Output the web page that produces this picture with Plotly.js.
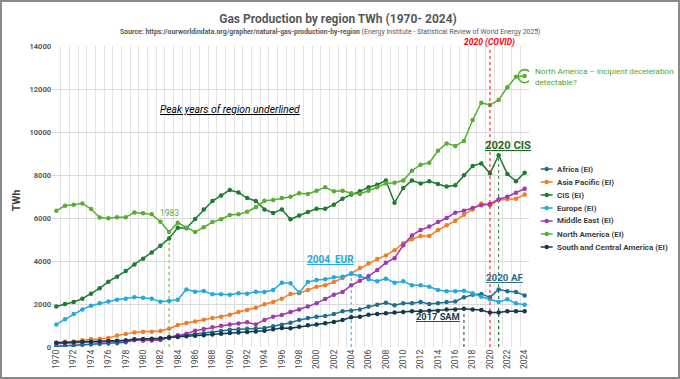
<!DOCTYPE html>
<html><head><meta charset="utf-8">
<script src="https://cdn.plot.ly/plotly-3.0.1.min.js"></script>
<style>
html,body{margin:0;padding:0;background:#fff}
#chart{width:680px;height:379px}
#frame{position:absolute;left:0;top:0;width:680px;height:379px;box-sizing:border-box;border:2px solid #8a8a8a;pointer-events:none}
</style>
</head><body><div id="chart"></div><div id="frame"></div>
<script>
const years = [1970,1971,1972,1973,1974,1975,1976,1977,1978,1979,1980,1981,1982,1983,1984,1985,1986,1987,1988,1989,1990,1991,1992,1993,1994,1995,1996,1997,1998,1999,2000,2001,2002,2003,2004,2005,2006,2007,2008,2009,2010,2011,2012,2013,2014,2015,2016,2017,2018,2019,2020,2021,2022,2023,2024];

const africa = [30,50,70,100,120,140,160,180,220,320,310,320,350,430,520,560,600,640,680,740,800,830,850,860,880,960,1040,1130,1260,1350,1410,1440,1530,1660,1690,1750,1870,1970,2060,1940,2030,2030,2090,2000,2030,2090,2120,2310,2430,2470,2310,2680,2590,2560,2400];
const asiaPacific = [200,250,260,310,360,370,420,530,600,680,710,710,740,850,1020,1120,1190,1270,1350,1410,1500,1630,1720,1830,1990,2090,2250,2470,2500,2650,2800,2870,3020,3210,3430,3670,3890,4090,4260,4500,4820,5010,5160,5160,5440,5660,5870,6150,6400,6680,6590,6840,6870,6900,7090];
const cis = [1880,2000,2090,2250,2480,2730,3040,3270,3530,3840,4110,4400,4710,5050,5550,5520,5950,6390,6790,7050,7300,7190,6930,6790,6400,6230,6400,5940,6120,6280,6430,6430,6620,6900,7090,7240,7430,7550,7740,6710,7400,7740,7610,7710,7580,7460,7520,7990,8420,8540,8080,8920,8050,7710,8110];
const europe = [1050,1290,1530,1750,1920,2030,2120,2200,2250,2310,2290,2250,2110,2140,2200,2680,2570,2600,2450,2450,2430,2500,2480,2570,2560,2650,2990,2960,2530,3020,3120,3150,3240,3270,3400,3300,3150,3060,3180,2990,3060,2870,2870,2800,2650,2590,2590,2620,2500,2340,2220,2090,2220,2030,1970];
const middleEast = [150,170,200,230,240,230,260,270,280,330,300,300,330,450,550,620,760,840,920,990,1050,1090,1150,1050,1260,1410,1490,1630,1750,1880,2040,2230,2430,2560,2870,3080,3300,3580,3920,4130,4730,5190,5440,5600,5810,6000,6250,6340,6470,6590,6650,6870,6990,7180,7360];
const northAmerica = [6340,6570,6620,6680,6420,6020,5990,6030,6030,6260,6220,6170,5830,5350,5780,5550,5350,5570,5810,5940,6140,6170,6290,6500,6800,6840,6930,6990,7150,7120,7270,7430,7240,7270,7150,7120,7270,7430,7610,7640,7740,8200,8480,8570,9130,9470,9350,9580,10560,11360,11260,11490,12080,12570,12600];
const southCentralAmerica = [200,210,220,240,250,260,280,290,310,360,370,380,410,440,470,500,520,550,580,620,650,680,700,720,760,820,880,870,940,1010,1050,1100,1160,1260,1380,1410,1500,1530,1570,1600,1630,1660,1660,1690,1690,1750,1750,1780,1750,1720,1600,1600,1660,1660,1660];

const seriesNames = ['Africa (EI)','Asia Pacific (EI)','CIS (EI)','Europe (EI)','Middle East (EI)','North America (EI)','South and Central America (EI)'];
const seriesData = [africa, asiaPacific, cis, europe, middleEast, northAmerica, southCentralAmerica];
const seriesColors = ['#1f6f8f','#f07e26','#1f7a34','#24a8e0','#a03aae','#58ae32','#16394f'];
const xTickLabels = ['1970','1972','1974','1976','1978','1980','1982','1984','1986','1988','1990','1992','1994','1996','1998','2000','2002','2004','2006','2008','2010','2012','2014','2016','2018','2020','2022','2024'];

const FONT = 'Roboto, Liberation Sans, sans-serif';
const L=51.7, R=529.3, T=46, B=347;
const px = x => (x-L)/(R-L);
const py = y => (B-y)/(B-T);
const idx = y => years.indexOf(y);

const traces = seriesData.map((d,i)=>({
  x: years, y: d, type:'scatter', mode:'lines+markers', name: seriesNames[i],
  line:{color:seriesColors[i], width:1.5}, marker:{color:seriesColors[i], size:4.5},
  showlegend:false, hoverinfo:'skip'
}));
const last = years.length-1;
traces.push({x:[years[last]], y:[northAmerica[last]], type:'scatter', mode:'markers',
  marker:{symbol:'circle-open', size:13, color:'#58ae32', line:{width:1.6, color:'#58ae32'}}, showlegend:false, hoverinfo:'skip'});

const shapes = [];
const annotations = [];
function vline(yr, top, color){
  shapes.push({type:'line', xref:'x', yref:'y', x0:yr, x1:yr, y0:0, y1:top, line:{color:color, width:1, dash:'dot'}, layer:'below'});
}
shapes.push({type:'line', xref:'x', yref:'paper', x0:2020, x1:2020, y0:0, y1:0.99, line:{color:'#ff0000', width:1, dash:'dot'}});
vline(1983, northAmerica[idx(1983)], '#58ae32');
vline(2004, europe[idx(2004)], '#24a8e0');
vline(2017, southCentralAmerica[idx(2017)], '#16394f');
vline(2021, africa[idx(2021)], '#1f6f8f');
vline(2021, cis[idx(2021)], '#1f7a34');

// legend (manual, compact)
seriesNames.forEach((n,i)=>{
  const yy = 169 + 13*i;
  shapes.push({type:'line', xref:'paper', yref:'paper', x0:px(541), x1:px(553), y0:py(yy), y1:py(yy), line:{color:seriesColors[i], width:1.5}});
  shapes.push({type:'circle', xref:'paper', yref:'paper', x0:px(544.8), x1:px(549.2), y0:py(yy+2.2), y1:py(yy-2.2), fillcolor:seriesColors[i], line:{width:0}});
  annotations.push({xref:'paper', yref:'paper', x:px(555.5), y:py(yy), xanchor:'left', yanchor:'middle', showarrow:false,
    text:'<b>'+n+'</b>', font:{family:FONT, size:8, color:'#404040'}});
});

annotations.push(
  {xref:'paper', yref:'paper', x:px(331), y:py(32.5), xanchor:'center', yanchor:'middle', showarrow:false,
   text:'<b>Source: https://ourworldindata.org/grapher/natural-gas-production-by-region</b> (Energy Institute - Statistical Review of World Energy 2025)',
   font:{family:FONT, size:6.9, color:'#595959'}},
  {xref:'x', yref:'paper', x:2020, y:py(42.5), xanchor:'center', yanchor:'middle', showarrow:false,
   text:'<b><i>2020 (COVID)</i></b>', font:{family:FONT, size:8.5, color:'#ff0000'}},
  {xref:'paper', yref:'paper', x:px(533), y:py(76.5), xanchor:'left', yanchor:'middle', showarrow:false, align:'left',
   text:'North America – incipient deceleration<br>detectable?', font:{family:FONT, size:8.1, color:'#4ea72e'}},
  {xref:'paper', yref:'paper', x:px(230), y:py(109), xanchor:'center', yanchor:'middle', showarrow:false,
   text:'<i><u>Peak years of region underlined</u></i>', font:{family:FONT, size:10.3, color:'#000000'}},
  {xref:'x', yref:'paper', x:1983, y:py(213), xanchor:'center', yanchor:'middle', showarrow:false,
   text:'1983', font:{family:FONT, size:8.5, color:'#58ae32'}},
  {xref:'paper', yref:'paper', x:px(330.5), y:py(259), xanchor:'center', yanchor:'middle', showarrow:false,
   text:'<b><u>2004  EUR</u></b>', font:{family:FONT, size:10, color:'#24a8e0'}},
  {xref:'paper', yref:'paper', x:px(505), y:py(277), xanchor:'center', yanchor:'middle', showarrow:false,
   text:'<b><u>2020 AF</u></b>', font:{family:FONT, size:9.8, color:'#2e6b87'}},
  {xref:'paper', yref:'paper', x:px(438.5), y:py(316), xanchor:'center', yanchor:'middle', showarrow:false,
   text:'<b><u>2017 SAM</u></b>', font:{family:FONT, size:9.3, color:'#1f3b4d'}},
  {xref:'paper', yref:'paper', x:px(508), y:py(145), xanchor:'center', yanchor:'middle', showarrow:false,
   text:'<b><u>2020 CIS</u></b>', font:{family:FONT, size:11.2, color:'#1d6b2b'}},
  {xref:'paper', yref:'paper', x:px(16), y:py(200), xanchor:'center', yanchor:'middle', showarrow:false, textangle:-90,
   text:'<b>TWh</b>', font:{family:FONT, size:10.5, color:'#404040'}}
);

const layout = {
  width:680, height:379,
  margin:{l:L, r:680-R, t:T, b:379-B, pad:0},
  paper_bgcolor:'#ffffff', plot_bgcolor:'#ffffff',
  font:{family:FONT, color:'#595959'},
  title:{text:'<b>Gas Production by region TWh (1970- 2024)</b>', x:338/680, xref:'container', xanchor:'center',
         y:1-19/379, yref:'container', yanchor:'middle', font:{family:FONT, size:12, color:'#595959'}},
  showlegend:false,
  xaxis:{range:[1969.5,2024.5], tickmode:'array', tickvals:xTickLabels.map(Number), ticktext:xTickLabels,
         tickangle:-90, showgrid:false, zeroline:false, showline:false, ticks:'',
         tickfont:{family:FONT, size:8.6, color:'#4a4a4a'},
         minor:{tickmode:'linear', tick0:1969.5, dtick:1, showgrid:true, gridcolor:'#e3e3e3', gridwidth:1, ticks:''}},
  yaxis:{range:[0,14000], dtick:2000, tick0:0, tickformat:'d', showgrid:true, gridcolor:'#d9d9d9', zeroline:false, showline:false, ticks:'',
         tickfont:{family:FONT, size:7.5, color:'#595959', weight:'bold'}},
  shapes:shapes, annotations:annotations
};
Plotly.newPlot('chart', traces, layout, {staticPlot:true, displayModeBar:false});
</script>
</body></html>
